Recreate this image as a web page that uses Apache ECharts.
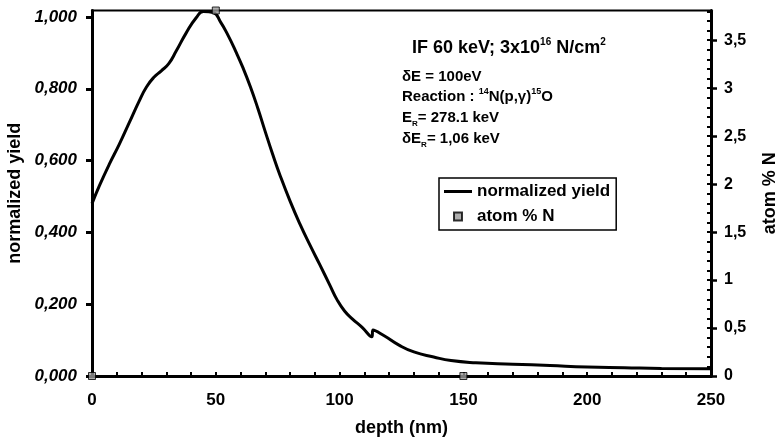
<!DOCTYPE html>
<html>
<head>
<meta charset="utf-8">
<script src="https://cdn.jsdelivr.net/npm/echarts@6/dist/echarts.min.js"></script>
<style>
  html, body { margin: 0; padding: 0; background: #fff; }
  #chart { width: 778px; height: 444px; }
</style>
</head>
<body>
<div id="chart"></div>
<script>
// normalized yield profile (depth in nm)
var yieldDepth = [0, 3, 7, 11, 15, 19, 22, 25, 28, 31, 34, 38, 42, 45, 49, 52, 55, 58, 61, 64, 67, 70, 73, 76, 80, 84, 88, 92, 96, 99, 102, 105, 109, 113, 113.5, 118, 124, 130, 138, 145, 155, 170, 185, 200, 215, 230, 250];
var yieldValue = [0.48, 0.53, 0.59, 0.645, 0.705, 0.765, 0.805, 0.832, 0.85, 0.87, 0.905, 0.955, 0.997, 1.015, 1.012, 0.985, 0.948, 0.905, 0.858, 0.805, 0.745, 0.68, 0.617, 0.558, 0.487, 0.423, 0.365, 0.31, 0.254, 0.212, 0.181, 0.16, 0.136, 0.109, 0.128, 0.112, 0.086, 0.067, 0.053, 0.043, 0.037, 0.033, 0.029, 0.025, 0.023, 0.021, 0.02];

// atom % N points
var nDepth = [0, 50, 150];
var nValue = [0, 3.81, 0];

var xTicks = [0, 50, 100, 150, 200, 250];
var leftTicks = [0, 0.2, 0.4, 0.6, 0.8, 1.0];
var rightTicks = [0, 0.5, 1, 1.5, 2, 2.5, 3, 3.5];
var rightMinor = [];
for (var i = 1; i <= 38; i++) rightMinor.push(i / 10);

var FONT = 'Liberation Sans';

var chart = echarts.init(document.getElementById('chart'));

var option = {
    backgroundColor: '#fff',
    animation: false,
    textStyle: { fontFamily: FONT },
    grid: {
        left: 92, right: 67, top: 10.5, bottom: 68,
        outerBoundsMode: 'none',
        show: true, borderColor: '#000', borderWidth: 2, backgroundColor: 'transparent'
    },
    legend: {
        orient: 'vertical',
        left: 439, top: 178,
        padding: [5, 6, 5, 5],
        itemGap: 8,
        itemWidth: 28, itemHeight: 8,
        borderColor: '#000', borderWidth: 1.5,
        textStyle: { fontFamily: FONT, fontWeight: 'bold', fontSize: 17, color: '#000' },
        data: [
            { name: 'normalized yield', icon: 'path://M0,0H28V3H0Z' },
            { name: 'atom % N', icon: 'path://M0,0H10V10H0Z' }
        ]
    },
    xAxis: {
        type: 'value', min: 0, max: 250, interval: 10,
        name: 'depth (nm)', nameLocation: 'middle', nameGap: 43,
        nameTextStyle: { fontFamily: FONT, fontWeight: 'bold', fontSize: 18, color: '#000' },
        axisLine: { lineStyle: { color: '#000', width: 3 } },
        axisTick: { inside: true, length: 4, lineStyle: { color: '#000', width: 2 } },
        axisLabel: {
            customValues: xTicks, margin: 16,
            fontFamily: FONT, fontWeight: 'bold', fontSize: 17, color: '#000'
        },
        splitLine: { show: false }
    },
    yAxis: [
        {
            type: 'value', min: 0, max: 1.018, position: 'left',
            name: 'normalized yield', nameLocation: 'middle', nameGap: 62,
            nameTextStyle: { fontFamily: FONT, fontWeight: 'bold', fontSize: 18, color: '#000' },
            axisLine: { show: true, lineStyle: { color: '#000', width: 3 } },
            axisTick: { show: true, customValues: leftTicks, length: 6, lineStyle: { color: '#000', width: 3 } },
            axisLabel: {
                customValues: leftTicks, margin: 15,
                fontFamily: FONT, fontWeight: 'bold', fontStyle: 'italic', fontSize: 17, color: '#000',
                formatter: function (v) { return v.toFixed(3).replace('.', ','); }
            },
            splitLine: { show: false }
        },
        {
            type: 'value', min: 0, max: 3.81, position: 'right',
            name: 'atom % N', nameLocation: 'middle', nameGap: 50,
            nameTextStyle: { fontFamily: FONT, fontWeight: 'bold', fontSize: 18, color: '#000' },
            axisLine: { show: true, lineStyle: { color: '#000', width: 3 } },
            axisTick: { show: true, customValues: rightTicks, length: 6, lineStyle: { color: '#000', width: 2.5 } },
            axisLabel: {
                customValues: rightTicks, margin: 13,
                fontFamily: FONT, fontWeight: 'bold', fontSize: 16, color: '#000',
                formatter: function (v) { return String(v).replace('.', ','); }
            },
            splitLine: { show: false }
        },
        {
            type: 'value', min: 0, max: 3.81, position: 'right',
            axisLine: { show: false },
            axisTick: { show: true, inside: true, customValues: rightMinor, length: 4, lineStyle: { color: '#000', width: 2 } },
            axisLabel: { show: false },
            splitLine: { show: false }
        }
    ],
    graphic: [
        {
            type: 'text', left: 412, top: 37,
            style: {
                text: '{a|IF 60 keV; 3x10}{s|16}{a| N/cm}{s|2}',
                rich: {
                    a: { fontFamily: FONT, fontWeight: 'bold', fontSize: 18, lineHeight: 22, fill: '#000' },
                    s: { fontFamily: FONT, fontWeight: 'bold', fontSize: 10, verticalAlign: 'top', lineHeight: 14, fill: '#000' }
                }
            }
        },
        {
            type: 'text', left: 402, top: 69,
            style: {
                text: '{a|δE = 100eV}\n{a|Reaction : }{s|14}{a|N(p,γ)}{s|15}{a|O}\n{a|E}{b|R}{a|= 278.1 keV}\n{a|δE}{b|R}{a|= 1,06 keV}',
                rich: {
                    a: { fontFamily: FONT, fontWeight: 'bold', fontSize: 15, lineHeight: 20.7, fill: '#000' },
                    s: { fontFamily: FONT, fontWeight: 'bold', fontSize: 9, verticalAlign: 'top', lineHeight: 14, fill: '#000' },
                    b: { fontFamily: FONT, fontWeight: 'bold', fontSize: 8, verticalAlign: 'bottom', lineHeight: 12, fill: '#000' }
                }
            }
        }
    ],
    series: [
        {
            name: 'normalized yield',
            type: 'line',
            xAxisIndex: 0, yAxisIndex: 0,
            data: yieldDepth.map(function (d, i) { return [d, yieldValue[i]]; }),
            symbol: 'none',
            smooth: 0.5,
            clip: false,
            lineStyle: { color: '#000', width: 3 },
            itemStyle: { color: '#000' },
            z: 3
        },
        {
            name: 'atom % N',
            type: 'scatter',
            xAxisIndex: 0, yAxisIndex: 1,
            data: nDepth.map(function (d, i) { return [d, nValue[i]]; }),
            symbol: 'rect',
            symbolSize: 7,
            clip: false,
            itemStyle: { color: '#9a9a9a', borderColor: '#000', borderWidth: 1 },
            z: 4
        }
    ]
};

chart.setOption(option);
</script>
</body>
</html>
